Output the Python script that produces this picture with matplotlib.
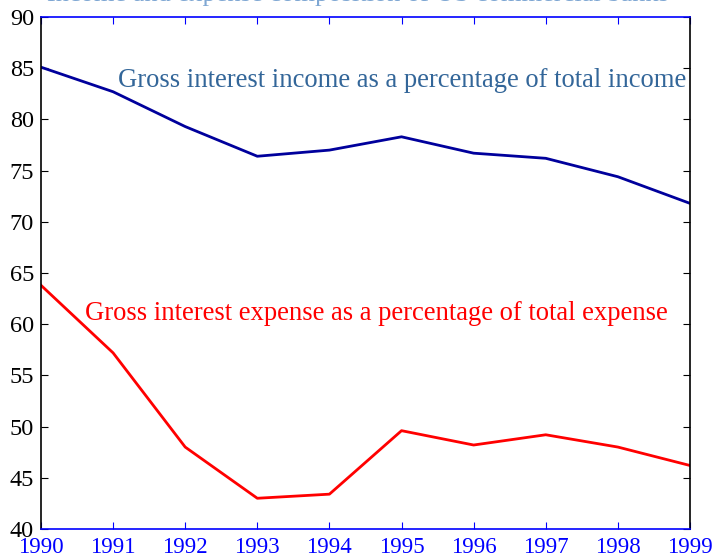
import matplotlib
matplotlib.use("Agg")
import matplotlib.pyplot as plt

years = [1990, 1991, 1992, 1993, 1994, 1995, 1996, 1997, 1998, 1999]
income_share = [85.1, 82.7, 79.3, 76.4, 77.0, 78.3, 76.7, 76.2, 74.4, 71.8]
expense_share = [63.8, 57.2, 48.0, 43.0, 43.4, 49.6, 48.2, 49.2, 48.0, 46.2]

plt.rcParams["font.family"] = ["Liberation Serif", "DejaVu Serif"]

fig = plt.figure(figsize=(7.15, 5.59), dpi=100)
ax = fig.add_axes([0.0573, 0.0537, 0.9077, 0.9159])

ax.plot(years, income_share, color="#00009C", linewidth=2.0)
ax.plot(years, expense_share, color="#FF0000", linewidth=2.0)

ax.text(1991.07, 83.16, "Gross interest income as a percentage of total income",
        color="#336699", fontsize=19.2, va="baseline", ha="left")
ax.text(1990.61, 60.41, "Gross interest expense as a percentage of total expense",
        color="#FF0000", fontsize=19.2, va="baseline", ha="left")

# heading above the axes, mostly cut off by the top edge
fig.text(0.5, 1 - 1 / 559, "Income and expense composition of US commercial banks",
         color="#7fa7d3", fontsize=19, ha="center", va="baseline")

ax.set_xlim(1990, 1999)
ax.set_ylim(40, 90)
ax.set_xticks(years)
ax.set_yticks(range(40, 91, 5))
ax.tick_params(axis="x", colors="#0000FF", labelcolor="#0000FF", direction="in",
               top=True, length=5, labelsize=16.5, pad=5.5)
ax.tick_params(axis="y", colors="black", direction="in", right=True, length=5,
               labelsize=17.5, pad=5)
ax.spines["top"].set_color("#0000FF")
ax.spines["bottom"].set_color("#0000FF")
ax.spines["left"].set_color("black")
ax.spines["right"].set_color("black")
for s in ax.spines.values():
    s.set_linewidth(1.2)

fig.savefig("out.png", dpi=100)
